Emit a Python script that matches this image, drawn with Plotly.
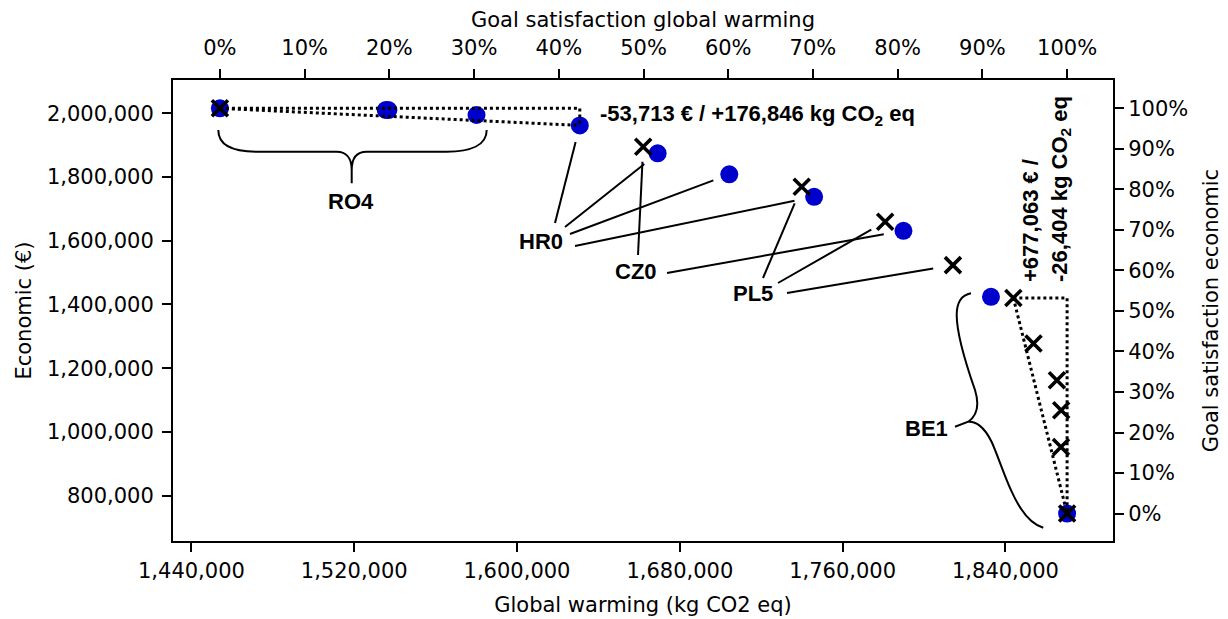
import math
import plotly.graph_objects as go

# ---------------- data ----------------
circle_gw = [1454000, 1535500, 1536800, 1580100, 1630846, 1669100, 1704300,
             1746000, 1789900, 1832900, 1870300]
circle_econ = [2015700, 2010400, 2010100, 1994700, 1961987, 1874400, 1808400,
               1738000, 1631200, 1423900, 743500]

cross_gw = [1454000, 1662000, 1739900, 1780900, 1814200, 1843896, 1853800,
            1865300, 1867400, 1867300, 1870300]
cross_econ = [2015700, 1895100, 1769500, 1659500, 1523500, 1420563, 1277600,
              1162300, 1068000, 952800, 743500]

gw_ticks = [1440000, 1520000, 1600000, 1680000, 1760000, 1840000]
econ_ticks = [800000, 1000000, 1200000, 1400000, 1600000, 1800000, 2000000]
pct_ticks = [0, 10, 20, 30, 40, 50, 60, 70, 80, 90, 100]
pct_labels = ["%d%%" % p for p in pct_ticks]

ro4_delta_text = "<b>-53,713 € / +176,846 kg CO<sub>2</sub> eq</b>"
be1_delta_text = "<b>+677,063 € /<br>-26,404 kg CO<sub>2</sub> eq</b>"

group_labels = ["RO4", "HR0", "CZ0", "PL5", "BE1"]

# ---------------- layout geometry ----------------
# the page body has an 8px margin, so the figure is 8px smaller than the window
BODY = 8
W, H = 1228 - BODY, 619 - BODY
PL, PT, PW, PH = 173, 80, 940, 461          # plot area in window pixels
ML, MT = PL - BODY, PT - BODY
MR = W - ML - PW
MB = H - MT - PH
x_range = [1430950, 1892860]
y_range = [657400, 2104600]


def px2d(px, py):
    gx = x_range[0] + (px - PL) / PW * (x_range[1] - x_range[0])
    gy = y_range[1] - (py - PT) / PH * (y_range[1] - y_range[0])
    return gx, gy


def d2px(gx, gy):
    px = PL + (gx - x_range[0]) / (x_range[1] - x_range[0]) * PW
    py = PT + (y_range[1] - gy) / (y_range[1] - y_range[0]) * PH
    return px, py


# goal satisfaction scales derived from the data extremes
all_gw = circle_gw + cross_gw
all_ec = circle_econ + cross_econ
gw_min, gw_max = min(all_gw), max(all_gw)
ec_min, ec_max = min(all_ec), max(all_ec)


def gw_pct(v):
    return (v - gw_min) / (gw_max - gw_min) * 100


def ec_pct(v):
    return (v - ec_min) / (ec_max - ec_min) * 100


x2_range = [gw_pct(x_range[0]), gw_pct(x_range[1])]
y2_range = [ec_pct(y_range[0]), ec_pct(y_range[1])]

FONT_AX = dict(family="DejaVu Sans", size=21, color="black")
FONT_AN = dict(family="Liberation Sans, Arial", size=22, color="black")

fig = go.Figure()

# blue circles
fig.add_trace(go.Scatter(x=circle_gw, y=circle_econ, mode="markers",
                         marker=dict(color="#0000CD", size=18, line=dict(width=0)),
                         showlegend=False, hoverinfo="skip"))

# dotted triangles (RO4: first -> HR0 point ; BE1: upper cross -> bottom)
i_a, i_b = 0, 4
tri1_x = [circle_gw[i_a], circle_gw[i_b], None, circle_gw[i_a], circle_gw[i_b], circle_gw[i_b]]
tri1_y = [circle_econ[i_a], circle_econ[i_b], None, circle_econ[i_a], circle_econ[i_a], circle_econ[i_b]]
j_a, j_b = 5, 10
tri2_x = [cross_gw[j_a], cross_gw[j_b], None, cross_gw[j_a], cross_gw[j_b], cross_gw[j_b]]
tri2_y = [cross_econ[j_a], cross_econ[j_b], None, cross_econ[j_a], cross_econ[j_a], cross_econ[j_b]]
for tx, ty in [(tri1_x, tri1_y), (tri2_x, tri2_y)]:
    fig.add_trace(go.Scatter(x=tx, y=ty, mode="lines",
                             line=dict(color="black", width=3, dash="dot"),
                             showlegend=False, hoverinfo="skip"))

# black crosses
fig.add_trace(go.Scatter(x=cross_gw, y=cross_econ, mode="markers",
                         marker=dict(symbol="x-thin", size=16, color="black",
                                     line=dict(width=3.6, color="black")),
                         showlegend=False, hoverinfo="skip"))

# invisible trace on the goal-satisfaction axes
fig.add_trace(go.Scatter(x=[gw_pct(v) for v in cross_gw], y=[ec_pct(v) for v in cross_econ],
                         xaxis="x2", yaxis="y2", mode="markers",
                         marker=dict(opacity=0), showlegend=False, hoverinfo="skip"))

annotations = []
shapes = []

# group labels
label_px = [(350.5, 201), (540.5, 241), (636, 271), (753, 293.5), (926, 428)]
for name, (lx, ly) in zip(group_labels, label_px):
    gx, gy = px2d(lx, ly)
    annotations.append(dict(x=gx, y=gy, xref="x", yref="y", text="<b>%s</b>" % name,
                            showarrow=False, font=FONT_AN, xanchor="center", yanchor="middle"))

# leader lines: (start pixel, target series, target index, gap before the target in px)
leaders = [
    ((555, 223), "c", 4, 17), ((565, 227), "c", 5, 17), ((570, 234), "c", 6, 17), ((575, 246), "c", 7, 20),
    ((638, 255), "x", 1, 15), ((667, 273), "c", 8, 20),
    ((763, 278), "x", 2, 18), ((778, 283), "x", 3, 16), ((787, 293), "x", 4, 20),
]
for (sx, sy), ser, idx, gap in leaders:
    tx = circle_gw[idx] if ser == "c" else cross_gw[idx]
    ty = circle_econ[idx] if ser == "c" else cross_econ[idx]
    tpx, tpy = d2px(tx, ty)
    dx, dy = tpx - sx, tpy - sy
    L = math.hypot(dx, dy)
    ex, ey = tpx - dx / L * gap, tpy - dy / L * gap
    x0, y0 = px2d(sx, sy)
    x1, y1 = px2d(ex, ey)
    shapes.append(dict(type="line", x0=x0, y0=y0, x1=x1, y1=y1, xref="x", yref="y",
                       line=dict(color="black", width=2)))

# delta texts
gx, gy = px2d(598, 115)
annotations.append(dict(x=gx, y=gy, xref="x", yref="y", text=ro4_delta_text, showarrow=False,
                        font=FONT_AN, xanchor="left", yanchor="middle"))
gx, gy = px2d(1046, 284)
annotations.append(dict(x=gx, y=gy, xref="x", yref="y", text=be1_delta_text, showarrow=False,
                        font=FONT_AN, xanchor="center", yanchor="bottom", align="left",
                        textangle=-90))


# braces (decorations) drawn as paths
def path_from(px_cmds):
    out = []
    for cmd in px_cmds:
        letter, pts = cmd[0], cmd[1:]
        coords = []
        for (px, py) in pts:
            gx, gy = px2d(px, py)
            coords.append("%.1f,%.1f" % (gx, gy))
        out.append(letter + " ".join(coords))
    return " ".join(out)


ro4_brace = path_from([
    ("M", (218.3, 130)),
    ("C", (218.3, 145), (232, 151.7), (256.7, 151.7)),
    ("L", (336.7, 151.7)),
    ("C", (346, 151.7), (351.7, 158), (351.7, 170)),
    ("L", (351.7, 183.3)),
    ("M", (351.7, 170)),
    ("C", (351.7, 158), (357, 151.7), (366.7, 151.7)),
    ("L", (446.7, 151.7)),
    ("C", (471, 151.7), (486.7, 145), (486.7, 130)),
])
be1_brace = path_from([
    ("M", (971, 293.3)),
    ("C", (962, 295), (956.7, 302), (956.7, 315)),
    ("C", (956.7, 335), (968, 370), (975, 390)),
    ("C", (979, 403), (978, 415), (968.3, 421.7)),
    ("L", (955, 426.7)),
    ("M", (968.3, 421.7)),
    ("C", (975, 421), (984, 426), (991.7, 442)),
    ("C", (998, 456), (1004, 475), (1011.7, 491.7)),
    ("C", (1020, 510), (1030, 524), (1043.3, 527.7)),
])
for p in (ro4_brace, be1_brace):
    shapes.append(dict(type="path", path=p, xref="x", yref="y", line=dict(color="black", width=2)))

axis_common = dict(showgrid=False, zeroline=False, showline=True, linewidth=2, linecolor="black",
                   ticks="outside", ticklen=9, tickwidth=2, tickcolor="black",
                   tickfont=FONT_AX)

fig.update_layout(
    width=W, height=H,
    margin=dict(l=ML, r=MR, t=MT, b=MB, autoexpand=False),
    paper_bgcolor="white", plot_bgcolor="white",
    xaxis=dict(range=x_range, tickvals=gw_ticks, tickformat=",", ticklabelstandoff=1,
               title=dict(text="Global warming (kg CO2 eq)", font=FONT_AX, standoff=15),
               **axis_common),
    yaxis=dict(range=y_range, tickvals=econ_ticks, tickformat=",", ticklabelstandoff=4,
               title=dict(text="Economic (€)", font=FONT_AX, standoff=10),
               **axis_common),
    xaxis2=dict(range=x2_range, tickvals=pct_ticks, ticktext=pct_labels, overlaying="x", side="top",
                anchor="y", ticklabelstandoff=6,
                title=dict(text="Goal satisfaction global warming", font=FONT_AX, standoff=2),
                **axis_common),
    yaxis2=dict(range=y2_range, tickvals=pct_ticks, ticktext=pct_labels, overlaying="y", side="right",
                anchor="x", ticklabelstandoff=0,
                title=dict(text="Goal satisfaction economic", font=FONT_AX, standoff=16),
                **axis_common),
    annotations=annotations,
    shapes=shapes,
    showlegend=False,
)

fig.write_html("out.html")
